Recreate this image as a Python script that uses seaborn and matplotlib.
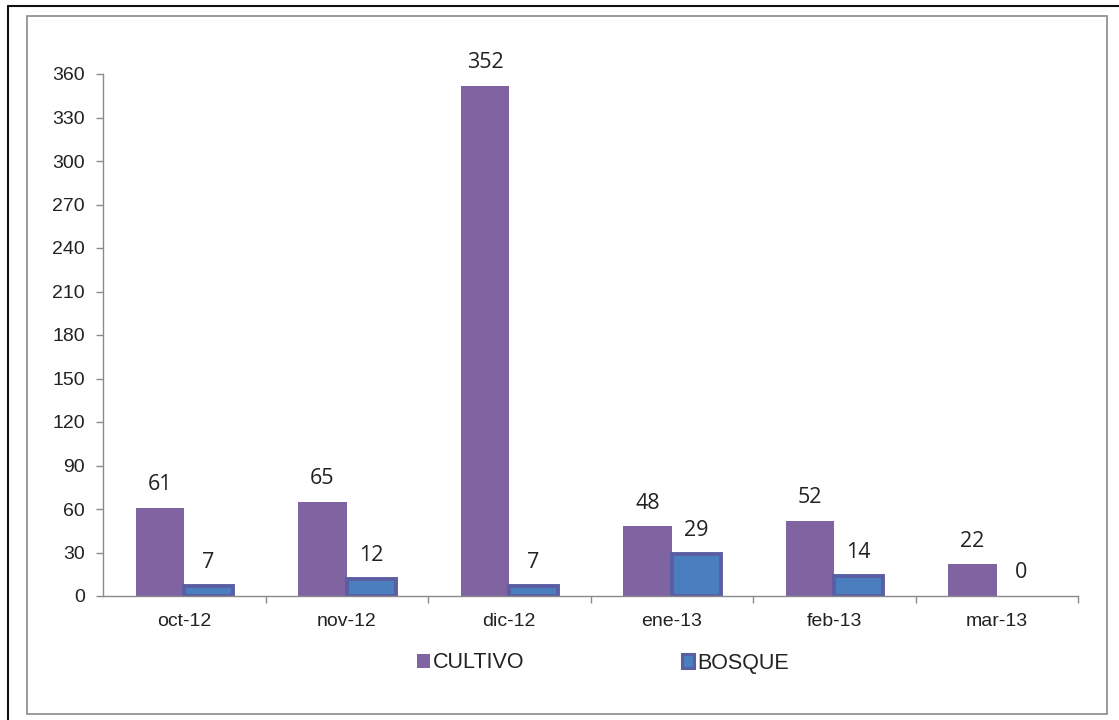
import matplotlib
matplotlib.use("Agg")
import matplotlib.pyplot as plt
from matplotlib.lines import Line2D
from matplotlib.patches import Rectangle, Patch
from matplotlib.ticker import FixedLocator
import seaborn as sns
import pandas as pd

# Monthly counts per site
months = ["oct-12", "nov-12", "dic-12", "ene-13", "feb-13", "mar-13"]
cultivo = [61, 65, 352, 48, 52, 22]
bosque = [7, 12, 7, 29, 14, 0]
series_names = ["CULTIVO", "BOSQUE"]
y_ticks = list(range(0, 361, 30))

purple = "#8064a2"
blue_fill = "#4a7ebf"
blue_edge = "#5b5ea3"

df = pd.DataFrame({
    "mes": months * 2,
    "valor": cultivo + bosque,
    "serie": [series_names[0]] * len(months) + [series_names[1]] * len(months),
})

sns.set_theme(style="white")
plt.rcParams["font.family"] = ["Liberation Sans", "DejaVu Sans"]

W, H = 1119, 720
fig = plt.figure(figsize=(W / 100, H / 100), dpi=100)
ax = fig.add_axes([103 / W, 1 - 596 / H, (1078 - 103) / W, (596 - 74) / H])

sns.barplot(data=df, x="mes", y="valor", hue="serie", order=months,
            hue_order=series_names, palette=[purple, blue_fill],
            width=0.6, gap=0, saturation=1, ax=ax, legend=False, errorbar=None)

# Outline the BOSQUE bars (no outline where the bar is empty)
for bar, v in zip(ax.containers[1], bosque):
    bar.set_edgecolor(blue_edge)
    bar.set_linewidth(2.8 if v > 0 else 0)
for bar in ax.containers[0]:
    bar.set_linewidth(0)

# Value labels
for cont in ax.containers:
    ax.bar_label(cont, padding=9, fontsize=15.5, color="#222222", family="Open Sans")

ax.set_xlim(-0.5, len(months) - 0.5)
ax.set_ylim(0, 360)
ax.set_yticks(y_ticks)
ax.set_xlabel("")
ax.set_ylabel("")

for side in ("top", "right"):
    ax.spines[side].set_visible(False)
for side in ("left", "bottom"):
    ax.spines[side].set_color("#8a8a8a")
    ax.spines[side].set_linewidth(1.0)

ax.tick_params(axis="y", which="major", direction="out", length=5, width=1,
               color="#8a8a8a", labelsize=14, labelcolor="#222222", pad=8, left=True)
ax.tick_params(axis="x", which="major", length=0, labelsize=14,
               labelcolor="#222222", pad=12)
ax.xaxis.set_minor_locator(FixedLocator([i + 0.5 for i in range(len(months))]))
ax.tick_params(axis="x", which="minor", direction="out", length=5, width=1,
               color="#8a8a8a", bottom=True)

# Legend
handles = [
    Patch(facecolor=purple, edgecolor=purple, linewidth=0),
    Patch(facecolor=blue_fill, edgecolor=blue_edge, linewidth=2.2),
]
fig.legend(handles, series_names, loc="center", ncol=2,
           bbox_to_anchor=(603 / W, 1 - 663 / H), frameon=False,
           fontsize=15.5, handlelength=0.6, handleheight=0.6,
           handletextpad=0.15, columnspacing=7.3, labelcolor="#222222")

# Frames around the chart
fig.patches.append(Rectangle((27 / W, 1 - 714 / H), (1107 - 27) / W, (714 - 16) / H,
                             transform=fig.transFigure, fill=False,
                             edgecolor="#8a8a8a", linewidth=1.2))
fig.lines.append(Line2D([8 / W, 8 / W], [0, 1 - 6 / H], transform=fig.transFigure,
                        color="#111111", linewidth=1.5))
fig.lines.append(Line2D([8 / W, 1], [1 - 6 / H, 1 - 6 / H], transform=fig.transFigure,
                        color="#111111", linewidth=1.5))

fig.savefig("out.png", dpi=100)
